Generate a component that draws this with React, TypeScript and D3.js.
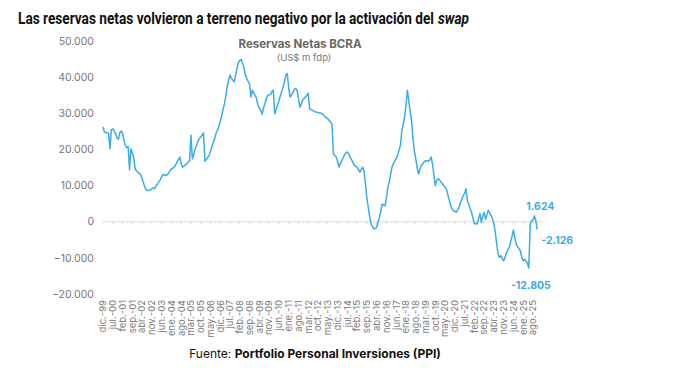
import React, { useEffect, useRef } from 'react';
import * as d3 from 'd3';

// reservas netas BCRA, US$ millones, mensual dic-99 .. nov-25
const y1999 = [26200];
const y2000 = [24800, 24700, 24600, 24500, 20200, 25500, 25700, 25000, 24400, 23200, 22800, 24500];
const y2001 = [25100, 24500, 22500, 21100, 20500, 20800, 14400, 20200, 19000, 17900, 14600, 14100];
const y2002 = [13700, 13400, 13000, 11900, 10800, 9500, 8800, 8600, 8700, 8800, 9200, 9400];
const y2003 = [9100, 10000, 10400, 11000, 11600, 12400, 13100, 12900, 12800, 13000, 13400, 14100];
const y2004 = [14600, 14800, 15100, 15700, 16500, 17200, 17900, 16000, 15100, 15400, 15700, 16000];
const y2005 = [16500, 16900, 23900, 17400, 18500, 20200, 21000, 22300, 23000, 23400, 24000, 24600];
const y2006 = [16700, 17200, 17800, 18300, 19500, 20700, 21900, 23000, 24500, 25300, 26500, 27800];
const y2007 = [29400, 31000, 32600, 34800, 37500, 39200, 40600, 39600, 39200, 38700, 40500, 42500];
const y2008 = [44000, 44600, 44900, 43800, 42500, 40500, 39600, 38800, 38000, 34500, 36400, 35500];
const y2009 = [35000, 34000, 32200, 31500, 30800, 29700, 31500, 32700, 34000, 35000, 35100, 35200];
const y2010 = [36000, 36400, 29900, 31000, 32200, 33500, 34800, 36000, 37300, 38800, 40600, 41000];
const y2011 = [37000, 34500, 35000, 35800, 36600, 36900, 36400, 34000, 31700, 32600, 33600, 34100];
const y2012 = [34500, 35000, 35500, 31300, 31000, 30800, 30600, 30400, 30300, 30200, 30100, 30000];
const y2013 = [29900, 29500, 29100, 28800, 28500, 28000, 27500, 27000, 18800, 18300, 17900, 16800];
const y2014 = [15100, 16000, 16900, 17700, 18500, 19000, 19300, 18800, 17900, 17200, 16400, 15600];
const y2015 = [15300, 15100, 14400, 13700, 14500, 15100, 14000, 10500, 6500, 4000, 1500, -600];
const y2016 = [-1400, -2000, -1900, -1600, -200, 1200, 3000, 4900, 4600, 4400, 6500, 9500];
const y2017 = [11000, 13000, 15100, 16000, 16800, 17500, 18300, 19800, 21100, 25000, 26800, 29000];
const y2018 = [32000, 36400, 33500, 30500, 28000, 23000, 19500, 17500, 15000, 13200, 14500, 15600];
const y2019 = [16000, 16500, 16900, 16900, 16700, 17000, 17900, 16000, 13000, 10000, 11500, 11900];
const y2020 = [11600, 11000, 10600, 10000, 9500, 9000, 7500, 6000, 4500, 3500, 3100, 2900];
const y2021 = [2600, 3200, 4000, 5200, 6300, 7200, 7800, 9100, 5800, 4800, 3600, 2600];
const y2022 = [1000, -600, -500, -600, 800, 2300, -200, 1500, 2600, 700, 2000, 3200];
const y2023 = [2400, 1700, 800, -600, -3000, -6200, -9000, -9900, -9400, -10200, -10800, -9800];
const y2024 = [-8500, -7800, -7100, -5500, -4000, -2300, -4500, -6200, -7000, -7500, -8100, -10000];
const y2025 = [-10800, -10400, -10900, -11500, -12805, -600, 300, 400, 1624, 300, -2126];

const reservas = [
  ...y1999, ...y2000, ...y2001, ...y2002, ...y2003, ...y2004, ...y2005, ...y2006, ...y2007,
  ...y2008, ...y2009, ...y2010, ...y2011, ...y2012, ...y2013, ...y2014, ...y2015, ...y2016,
  ...y2017, ...y2018, ...y2019, ...y2020, ...y2021, ...y2022, ...y2023, ...y2024, ...y2025,
];

// etiquetas cada 7 meses, desde dic-99
const xLabels = [
  'dic.-99', 'jul.-00', 'feb.-01', 'sep.-01', 'abr.-02', 'nov.-02', 'jun.-03', 'ene.-04', 'ago.-04',
  'mar.-05', 'oct.-05', 'may.-06', 'dic.-06', 'jul.-07', 'feb.-08', 'sep.-08', 'abr.-09', 'nov.-09',
  'jun.-10', 'ene.-11', 'ago.-11', 'mar.-12', 'oct.-12', 'may.-13', 'dic.-13', 'jul.-14', 'feb.-15',
  'sep.-15', 'abr.-16', 'nov.-16', 'jun.-17', 'ene.-18', 'ago.-18', 'mar.-19', 'oct.-19', 'may.-20',
  'dic.-20', 'jul.-21', 'feb.-22', 'sep.-22', 'abr.-23', 'nov.-23', 'jun.-24', 'ene.-25', 'ago.-25',
];
const labelStep = 7;
const yTicks = [-20000, -10000, 0, 10000, 20000, 30000, 40000, 50000];

// puntos destacados
const callouts = [
  { i: 309, text: '1.624', dx: 6, dy: -10 },
  { i: 311, text: '-2.126', dx: 20, dy: 11 },
  { i: 305, text: '-12.805', dx: 2, dy: 17 },
];

const fmt = (v: number) => d3.format(',')(v).replace(/,/g, '.');

const App = () => {
  const svgRef = useRef<SVGSVGElement>(null);

  useEffect(() => {
    if (!svgRef.current) return;
    const svg = d3.select(svgRef.current);
    svg.selectAll('*').remove();

    const font = 'Inter, Roboto, sans-serif';
    const blue = '#3aace6';

    const x = d3.scaleLinear().domain([0, reservas.length - 1]).range([103, 537.2]);
    const y = d3.scaleLinear().domain([-20000, 50000]).range([294, 41]);

    // titulo: fuente angosta, se ajusta el ancho con escala horizontal
    const tg = svg.append('g');
    const t1 = tg.append('text')
      .attr('x', 0).attr('y', 0)
      .attr('font-family', 'Roboto, sans-serif')
      .attr('font-weight', 700)
      .attr('font-size', 16.5)
      .attr('fill', '#111')
      .text('Las reservas netas volvieron a terreno negativo por la activación del\u00A0');
    const w1 = (t1.node() as SVGTextElement).getComputedTextLength();
    const t2 = tg.append('text')
      .attr('x', w1).attr('y', 0)
      .attr('font-family', 'Roboto, sans-serif')
      .attr('font-weight', 700)
      .attr('font-style', 'italic')
      .attr('font-size', 16.5)
      .attr('fill', '#111')
      .text('swap');
    const w2 = (t2.node() as SVGTextElement).getComputedTextLength();
    const sx = 451 / (w1 + w2);
    tg.attr('transform', `translate(18,24) scale(${sx},1)`);

    svg.append('text')
      .attr('x', 300).attr('y', 48)
      .attr('text-anchor', 'middle')
      .attr('font-family', font).attr('font-weight', 700).attr('font-size', 11.5)
      .attr('fill', '#666')
      .text('Reservas Netas BCRA');
    svg.append('text')
      .attr('x', 304).attr('y', 61)
      .attr('text-anchor', 'middle')
      .attr('font-family', font).attr('font-size', 9.5)
      .attr('fill', '#777')
      .text('(US$ m fdp)');

    // eje Y
    svg.append('g')
      .selectAll('text')
      .data(yTicks)
      .join('text')
      .attr('x', 94)
      .attr('y', d => y(d))
      .attr('dy', '0.35em')
      .attr('text-anchor', 'end')
      .attr('font-family', font).attr('font-size', 10.5)
      .attr('fill', '#777')
      .text(d => fmt(d));

    // linea cero con marcas
    const zero = svg.append('g').attr('transform', `translate(0,${y(0)})`);
    zero.append('line')
      .attr('x1', x(0)).attr('x2', 545)
      .attr('stroke', '#ddd').attr('stroke-width', 1);
    zero.selectAll('line.tk')
      .data(xLabels.map((_, k) => k * labelStep))
      .join('line')
      .attr('class', 'tk')
      .attr('x1', d => x(d)).attr('x2', d => x(d))
      .attr('y1', 0).attr('y2', 2.5)
      .attr('stroke', '#ddd');

    // etiquetas X
    svg.append('g')
      .selectAll('text')
      .data(xLabels)
      .join('text')
      .attr('transform', (_, k) => `translate(${x(k * labelStep)},300) rotate(-90)`)
      .attr('dy', '0.35em')
      .attr('text-anchor', 'end')
      .attr('font-family', font).attr('font-size', 9.5)
      .attr('fill', '#777')
      .text(d => d);

    const line = d3.line<number>()
      .x((_, i) => x(i))
      .y(d => y(d));

    svg.append('path')
      .datum(reservas)
      .attr('d', line)
      .attr('fill', 'none')
      .attr('stroke', blue)
      .attr('stroke-width', 1.5)
      .attr('stroke-linejoin', 'round');

    svg.append('g')
      .selectAll('text')
      .data(callouts)
      .join('text')
      .attr('x', d => x(d.i) + d.dx)
      .attr('y', d => y(reservas[d.i]) + d.dy)
      .attr('dy', '0.35em')
      .attr('text-anchor', 'middle')
      .attr('font-family', font).attr('font-weight', 700).attr('font-size', 10.5)
      .attr('fill', blue)
      .text(d => d.text);

    svg.append('text')
      .attr('x', 315).attr('y', 358)
      .attr('text-anchor', 'middle')
      .attr('font-family', font).attr('font-size', 12)
      .attr('fill', '#111')
      .call(t => {
        t.append('tspan').text('Fuente: ');
        t.append('tspan').attr('font-weight', 700).text('Portfolio Personal Inversiones (PPI)');
      });
  }, []);

  return (
    <svg
      ref={svgRef}
      width={680}
      height={387}
      style={{ position: 'absolute', left: 0, top: 0, background: '#fff' }}
    />
  );
};

export default App;
